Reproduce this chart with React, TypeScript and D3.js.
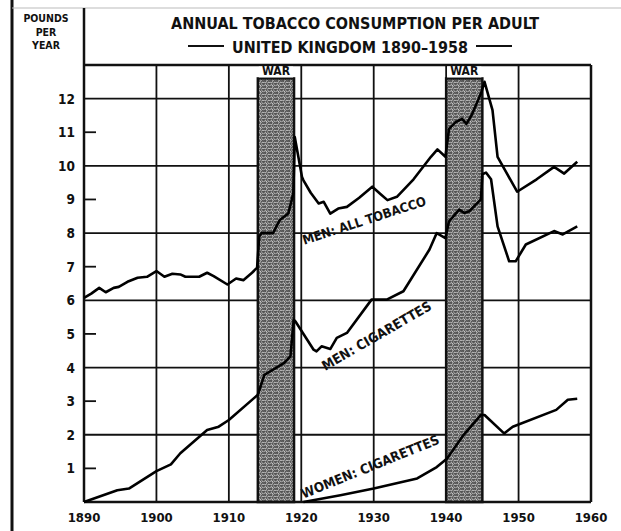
// Annual tobacco consumption per adult, UK 1890-1958
import React from 'react';
import * as d3 from 'd3';

const menAllYears = [1890, 1891, 1892.1, 1893, 1894.1, 1894.8, 1896, 1897.4, 1898.7, 1900, 1901.1, 1902.2, 1903.3, 1904, 1905.9, 1907, 1907.9, 1909.8, 1911, 1912, 1913.2, 1913.9, 1914.2, 1914.5, 1916.1, 1917, 1918.2, 1918.9, 1919.1, 1920.1, 1920.3, 1921.3, 1922.4, 1923.1, 1924, 1925.1, 1926.3, 1928, 1929.8, 1931, 1931.9, 1933.2, 1935.5, 1937.9, 1938.8, 1939.9, 1940.4, 1941.3, 1942.2, 1942.8, 1943.5, 1944.8, 1945.3, 1946.4, 1947.1, 1948.4, 1949.8, 1952.5, 1954.9, 1956.3, 1958.1];
const menAllValues = [6.07, 6.2, 6.37, 6.24, 6.37, 6.4, 6.55, 6.67, 6.7, 6.87, 6.7, 6.79, 6.77, 6.7, 6.7, 6.82, 6.72, 6.47, 6.65, 6.6, 6.82, 6.97, 7.9, 8.0, 8.0, 8.38, 8.58, 9.18, 10.86, 9.67, 9.57, 9.2, 8.88, 8.93, 8.58, 8.73, 8.78, 9.05, 9.38, 9.15, 8.98, 9.08, 9.6, 10.27, 10.49, 10.27, 11.1, 11.3, 11.4, 11.25, 11.5, 12.15, 12.5, 11.66, 10.27, 9.77, 9.23, 9.6, 9.97, 9.77, 10.12];

const menCigYears = [1890, 1894.6, 1896.2, 1900, 1902, 1903.3, 1907, 1908.6, 1910, 1914, 1914.9, 1917.6, 1918.5, 1918.95, 1919.2, 1921.7, 1922.1, 1922.8, 1924, 1924.9, 1926.3, 1929.7, 1931.8, 1934.1, 1937.7, 1938.7, 1939.9, 1940.4, 1941.8, 1942.5, 1943.2, 1944.8, 1945.0, 1945.5, 1946.2, 1947.1, 1948.7, 1949.6, 1951, 1954.9, 1956.1, 1958.1];
const menCigValues = [0, 0.35, 0.4, 0.92, 1.12, 1.45, 2.14, 2.24, 2.44, 3.19, 3.78, 4.13, 4.33, 5.42, 5.37, 4.53, 4.48, 4.63, 4.55, 4.88, 5.03, 6.02, 6.02, 6.27, 7.51, 8.0, 7.85, 8.35, 8.7, 8.6, 8.65, 9.0, 9.75, 9.8, 9.6, 8.2, 7.16, 7.16, 7.66, 8.06, 7.96, 8.2];

const womenYears = [1920.3, 1925.4, 1930, 1936, 1938.7, 1940.1, 1942.4, 1944.8, 1945.3, 1948, 1949.2, 1955.2, 1956.8, 1958.1];
const womenValues = [0, 0.2, 0.4, 0.7, 1.04, 1.29, 1.99, 2.59, 2.59, 2.04, 2.24, 2.74, 3.04, 3.07];

const wars = [[1914, 1919], [1940, 1945]];
const xTicks = [1890, 1900, 1910, 1920, 1930, 1940, 1950, 1960];
const yTicks = [1, 2, 3, 4, 5, 6, 7, 8, 9, 10, 11, 12];

const font = '"DejaVu Sans Condensed", "DejaVu Sans", sans-serif';

const App = () => {
  const left = 84, right = 591, top = 65, bottom = 502;
  const x = d3.scaleLinear().domain([1890, 1960]).range([left, right]);
  const y = d3.scaleLinear().domain([0, 13]).range([bottom, top]);

  const line = (xs: number[], vs: number[]) =>
    d3.line<number>().x((_, i) => x(xs[i])).y(v => y(v))(vs) || '';

  const label = (yr: number, v: number, angle: number, text: string, size: number) => (
    <text transform={`translate(${x(yr)},${y(v)}) rotate(${angle})`} fontSize={size}
      fontWeight="bold" fontFamily={font} fill="#111">{text}</text>
  );

  return (
    <svg width={621} height={531} style={{ position: 'absolute', left: 0, top: 0, background: '#fff' }}>
      <defs>
        <pattern id="hatch" width={6} height={6} patternUnits="userSpaceOnUse">
          <rect width={6} height={6} fill="#555" />
          <path d="M0.3 1.3 q1.3 -1.3 2.6 0.4 M3.8 0.4 l1.8 1.8 M0.4 4.3 q1 1.1 2.2 -0.3 M3.4 5.2 q1.1 -1.4 2.3 -0.7 M2.2 3.2 l1.4 -0.9"
            stroke="#f2f2f2" strokeWidth={0.9} fill="none" />
        </pattern>
      </defs>

      {/* frame */}
      <line x1={12} x2={12} y1={0} y2={531} stroke="#111" strokeWidth={3} />
      <line x1={12} x2={621} y1={8} y2={8} stroke="#bbb" strokeWidth={1} />
      <line x1={left} x2={left} y1={8} y2={bottom} stroke="#111" strokeWidth={2.5} />

      {/* header text */}
      {['POUNDS', 'PER', 'YEAR'].map((t, i) => (
        <text key={t} x={46} y={22 + i * 13.5} textAnchor="middle" fontSize={10.5} fontWeight="bold"
          fontFamily={font} fill="#111">{t}</text>
      ))}
      <text x={355} y={29} textAnchor="middle" fontSize={16} fontWeight="bold" fontFamily={font}
        fill="#111" textLength={368} lengthAdjust="spacingAndGlyphs">ANNUAL TOBACCO CONSUMPTION PER ADULT</text>
      <text x={350} y={53} textAnchor="middle" fontSize={16} fontWeight="bold" fontFamily={font}
        fill="#111" textLength={236} lengthAdjust="spacingAndGlyphs">UNITED KINGDOM  1890–1958</text>
      <line x1={188} x2={224} y1={46} y2={46} stroke="#111" strokeWidth={2} />
      <line x1={476} x2={512} y1={46} y2={46} stroke="#111" strokeWidth={2} />

      {/* grid */}
      {xTicks.map(t => (
        <line key={t} x1={x(t)} x2={x(t)} y1={top} y2={bottom} stroke="#111" strokeWidth={t === 1960 ? 2.5 : 1.8} />
      ))}
      {yTicks.map(t => (
        <line key={t} x1={left} x2={t % 2 === 0 ? right : left + 12} y1={y(t)} y2={y(t)} stroke="#111" strokeWidth={1.8} />
      ))}
      <line x1={left} x2={right} y1={top} y2={top} stroke="#111" strokeWidth={2.5} />
      <line x1={left} x2={right} y1={bottom} y2={bottom} stroke="#111" strokeWidth={2.5} />

      {/* war periods */}
      {wars.map(([a, b]) => (
        <g key={a}>
          <rect x={x(a)} y={y(12.6)} width={x(b) - x(a)} height={bottom - y(12.6)} fill="url(#hatch)"
            stroke="#111" strokeWidth={2.5} />
          <rect x={x(a) + 1} y={top + 1.5} width={x(b) - x(a) - 2} height={y(12.6) - top - 2.5} fill="#fff" />
          <text x={(x(a) + x(b)) / 2} y={y(12.6) - 3} textAnchor="middle" fontSize={12} fontWeight="bold"
            fontFamily={font} fill="#111">WAR</text>
        </g>
      ))}

      {/* axis labels */}
      {yTicks.map(t => (
        <text key={t} x={75} y={y(t) + 5} textAnchor="end" fontSize={13.5} fontWeight="bold"
          fontFamily={font} fill="#111">{t}</text>
      ))}
      {xTicks.map(t => (
        <text key={t} x={x(t)} y={522} textAnchor="middle" fontSize={13} fontWeight="bold"
          fontFamily={font} fill="#111">{t}</text>
      ))}

      {/* series */}
      <path d={line(menAllYears, menAllValues)} fill="none" stroke="#000" strokeWidth={2.6} strokeLinejoin="round" />
      <path d={line(menCigYears, menCigValues)} fill="none" stroke="#000" strokeWidth={2.6} strokeLinejoin="round" />
      <path d={line(womenYears, womenValues)} fill="none" stroke="#000" strokeWidth={2.6} strokeLinejoin="round" />

      {label(1920.4, 7.65, -18, 'MEN: ALL TOBACCO', 13)}
      {label(1923.3, 3.9, -30, 'MEN: CIGARETTES', 13.5)}
      {label(1920.3, 0.1, -22, 'WOMEN: CIGARETTES', 13.5)}
    </svg>
  );
};

export default App;
